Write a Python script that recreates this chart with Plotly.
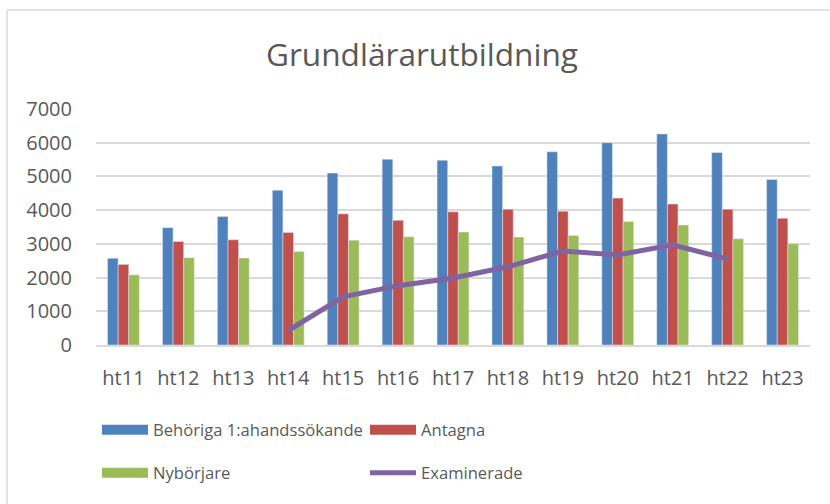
import plotly.graph_objects as go

# terms
terms = ["ht11", "ht12", "ht13", "ht14", "ht15", "ht16", "ht17",
         "ht18", "ht19", "ht20", "ht21", "ht22", "ht23"]

# values
behoriga = [2570, 3480, 3810, 4590, 5100, 5510, 5480, 5310, 5730, 6000, 6260, 5710, 4910]
antagna = [2390, 3070, 3120, 3340, 3890, 3700, 3950, 4030, 3970, 4360, 4180, 4030, 3760]
nyborjare = [2080, 2590, 2580, 2770, 3110, 3210, 3350, 3200, 3250, 3660, 3560, 3150, 3000]
examinerade = [None, None, None, 430, 1430, 1760, 1990, 2320, 2790, 2670, 2970, 2550, None]

BLUE = "#4F81BD"
RED = "#C0504D"
GREEN = "#9BBB59"
PURPLE = "#8064A2"
TXT = "#595959"
FONT = "Open Sans"

fig = go.Figure()

for name, vals, col in [("Behöriga 1:ahandssökande", behoriga, BLUE),
                        ("Antagna", antagna, RED),
                        ("Nybörjare", nyborjare, GREEN)]:
    fig.add_trace(go.Bar(x=terms, y=vals, name=name, marker_color=col,
                         showlegend=False))

fig.add_trace(go.Scatter(x=terms, y=examinerade, name="Examinerade",
                         mode="lines", line=dict(color=PURPLE, width=5),
                         showlegend=False))

# legend entries (two rows, drawn as separate legends)
for name, col, lw, leg in [("Behöriga 1:ahandssökande", BLUE, 14, "legend"),
                           ("Antagna", RED, 14, "legend"),
                           ("Nybörjare", GREEN, 14, "legend2"),
                           ("Examinerade", PURPLE, 5, "legend2")]:
    fig.add_trace(go.Scatter(x=[None], y=[None], name=name, mode="lines",
                             line=dict(color=col, width=lw), legend=leg,
                             hoverinfo="skip"))

leg_common = dict(orientation="h", xref="paper", yref="paper",
                  x=1 / 714, xanchor="left", yanchor="middle",
                  entrywidth=207, entrywidthmode="pixels", itemwidth=46,
                  font=dict(family=FONT, size=16.6, color=TXT),
                  bgcolor="rgba(0,0,0,0)")

fig.update_layout(
    width=830, height=504,
    margin=dict(l=96, r=20, t=109, b=159),
    paper_bgcolor="white", plot_bgcolor="white",
    font=dict(family=FONT, color=TXT),
    barmode="group", bargap=0.42, bargroupgap=0,
    title=dict(text="Grundlärarutbildning", xref="paper",
               x=(422 - 96) / 714, xanchor="center",
               y=1 - 55 / 504, yanchor="middle",
               font=dict(family=FONT, size=31.6, color=TXT)),
    legend=dict(y=(345 - 430) / 236, **leg_common),
    legend2=dict(y=(345 - 473) / 236, **leg_common),
    showlegend=True,
)

fig.update_yaxes(range=[0, 7000], dtick=1000, showgrid=True,
                 gridcolor="#D9D9D9", gridwidth=1.5, zeroline=False,
                 showline=False, ticks="", ticklabelstandoff=23,
                 tickfont=dict(family=FONT, size=20, color=TXT))
fig.update_xaxes(showline=True, linecolor="#D9D9D9", linewidth=1.5,
                 ticks="", ticklabelstandoff=14,
                 tickfont=dict(family=FONT, size=20, color=TXT))

# chart frame
fig.add_shape(type="line", xref="paper", yref="paper",
              x0=(7 - 96) / 714, x1=(830 - 96) / 714,
              y0=(345 - 10) / 236, y1=(345 - 10) / 236,
              line=dict(color="#D9D9D9", width=1.5))
fig.add_shape(type="line", xref="paper", yref="paper",
              x0=(7 - 96) / 714, x1=(7 - 96) / 714,
              y0=(345 - 10) / 236, y1=(345 - 504) / 236,
              line=dict(color="#D9D9D9", width=1.5))

fig.write_html("out.html", config={"displayModeBar": False},
               post_script="document.body.style.margin='0';")
